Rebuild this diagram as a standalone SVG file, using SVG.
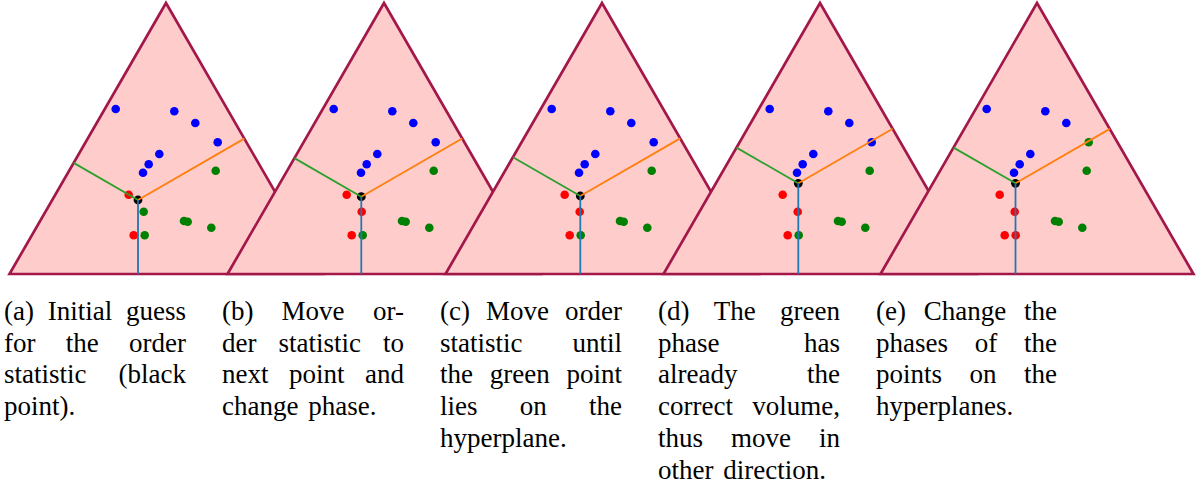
<svg xmlns="http://www.w3.org/2000/svg" width="1196" height="486" viewBox="0 0 1196 486">
<style>
.tri{fill:#ffcccc;stroke:#a3184a;stroke-width:2.7;stroke-linejoin:miter}
.b{fill:#0000ff}.g{fill:#008000}.r{fill:#ff0000}.k{fill:#000}
.hg{stroke:#2ca02c;stroke-width:1.8;fill:none}
.ho{stroke:#ff7f0e;stroke-width:1.8;fill:none}
.hb{stroke:#1f77b4;stroke-width:1.8;fill:none}
text{font-family:"Liberation Serif","Times New Roman",serif;font-size:27px;fill:#000}
.m{text-anchor:middle}.e{text-anchor:end}.w{word-spacing:3px}
</style>
<defs>
<polygon id="tri" class="tri" points="166,3 9.5,274 322.5,274"/>
<g id="common">
<circle class="b" cx="115.7" cy="109" r="4.3"/>
<circle class="b" cx="174.3" cy="111.3" r="4.3"/>
<circle class="b" cx="195.3" cy="123" r="4.3"/>
<circle class="b" cx="159.3" cy="154" r="4.3"/>
<circle class="b" cx="148.7" cy="164.3" r="4.3"/>
<circle class="b" cx="143" cy="172.7" r="4.3"/>
<circle class="g" cx="215.7" cy="170.7" r="4.3"/>
<circle class="g" cx="184" cy="221" r="4.3"/>
<circle class="g" cx="187.7" cy="221.7" r="4.3"/>
<circle class="g" cx="211.3" cy="227.7" r="4.3"/>
<circle class="r" cx="128.7" cy="194.7" r="4.3"/>
<circle class="r" cx="133.7" cy="235.3" r="4.3"/>
</g>
</defs>

<g id="panel-a">
<use href="#tri"/>
<use href="#common"/>
<circle class="b" cx="217.7" cy="142.3" r="4.3"/>
<circle class="g" cx="143.7" cy="211.7" r="4.3"/>
<circle class="g" cx="144.7" cy="235.3" r="4.3"/>
<circle class="k" cx="138" cy="200" r="4.4"/>
<g id="hyperplanes-a">
<line class="hg" x1="138" y1="200" x2="73.7" y2="162.9"/>
<line class="ho" x1="138" y1="200" x2="244.3" y2="138.6"/>
<line class="hb" x1="138" y1="200" x2="138" y2="274"/>
</g>
</g>

<g id="panel-b" transform="translate(218,0)">
<use href="#tri"/>
<use href="#common"/>
<circle class="b" cx="217.7" cy="142.3" r="4.3"/>
<circle class="r" cx="143.7" cy="211.7" r="4.3"/>
<circle class="g" cx="144.7" cy="235.3" r="4.3"/>
<circle class="k" cx="143.3" cy="196.7" r="4.4"/>
<g id="hyperplanes-b">
<line class="hg" x1="143.3" y1="196.7" x2="76.4" y2="158.1"/>
<line class="ho" x1="143.3" y1="196.7" x2="244.2" y2="138.5"/>
<line class="hb" x1="143.3" y1="196.7" x2="143.3" y2="274"/>
</g>
</g>

<g id="panel-c" transform="translate(436,0)">
<use href="#tri"/>
<use href="#common"/>
<circle class="b" cx="217.7" cy="142.3" r="4.3"/>
<circle class="r" cx="143.7" cy="211.7" r="4.3"/>
<circle class="g" cx="144.7" cy="235.3" r="4.3"/>
<circle class="k" cx="144.3" cy="196" r="4.4"/>
<g id="hyperplanes-c">
<line class="hg" x1="144.3" y1="196" x2="77" y2="157.2"/>
<line class="ho" x1="144.3" y1="196" x2="244.2" y2="138.4"/>
<line class="hb" x1="144.3" y1="196" x2="144.3" y2="274"/>
</g>
</g>

<g id="panel-d" transform="translate(654,0)">
<use href="#tri"/>
<use href="#common"/>
<circle class="b" cx="217.7" cy="142.3" r="4.3"/>
<circle class="r" cx="143.7" cy="211.7" r="4.3"/>
<circle class="g" cx="144.7" cy="235.3" r="4.3"/>
<circle class="k" cx="144.3" cy="183.3" r="4.4"/>
<g id="hyperplanes-d">
<line class="hg" x1="144.3" y1="183.3" x2="82.5" y2="147.6"/>
<line class="ho" x1="144.3" y1="183.3" x2="238.7" y2="128.8"/>
<line class="hb" x1="144.3" y1="183.3" x2="144.3" y2="274"/>
</g>
</g>

<g id="panel-e" transform="translate(871,0)">
<use href="#tri"/>
<use href="#common"/>
<circle class="g" cx="217.7" cy="142.3" r="4.3"/>
<circle class="r" cx="143.7" cy="211.7" r="4.3"/>
<circle class="r" cx="144.7" cy="235.3" r="4.3"/>
<circle class="k" cx="144.5" cy="183.3" r="4.4"/>
<g id="hyperplanes-e">
<line class="hg" x1="144.5" y1="183.3" x2="82.6" y2="147.6"/>
<line class="ho" x1="144.5" y1="183.3" x2="238.8" y2="128.9"/>
<line class="hb" x1="144.5" y1="183.3" x2="144.5" y2="274"/>
</g>
</g>

<g id="caption-a">
<text x="4" y="320">(a)</text><text class="m" x="80" y="320">Initial</text><text class="e" x="186" y="320">guess</text>
<text x="4" y="351.7">for</text><text class="m" x="82.3" y="351.7">the</text><text class="e" x="186" y="351.7">order</text>
<text x="4" y="383.4">statistic</text><text class="e" x="186" y="383.4">(black</text>
<text x="4" y="415.1">point).</text>
</g>
<g id="caption-b">
<text x="222" y="320">(b)</text><text class="m" x="313" y="320">Move</text><text class="e" x="404" y="320">or-</text>
<text x="222" y="351.7">der</text><text class="m" x="319.8" y="351.7">statistic</text><text class="e" x="404" y="351.7">to</text>
<text x="222" y="383.4">next</text><text class="m" x="316.8" y="383.4">point</text><text class="e" x="404" y="383.4">and</text>
<text class="w" x="222" y="415.1">change phase.</text>
</g>
<g id="caption-c">
<text x="440" y="320">(c)</text><text class="m" x="517.5" y="320">Move</text><text class="e" x="622" y="320">order</text>
<text x="440" y="351.7">statistic</text><text class="e" x="622" y="351.7">until</text>
<text x="440" y="383.4">the</text><text class="m" x="519.8" y="383.4">green</text><text class="e" x="622" y="383.4">point</text>
<text x="440" y="415.1">lies</text><text class="m" x="533.3" y="415.1">on</text><text class="e" x="622" y="415.1">the</text>
<text x="440" y="446.8">hyperplane.</text>
</g>
<g id="caption-d">
<text x="658" y="320">(d)</text><text class="m" x="734.8" y="320">The</text><text class="e" x="840" y="320">green</text>
<text x="658" y="351.7">phase</text><text class="e" x="840" y="351.7">has</text>
<text x="658" y="383.4">already</text><text class="e" x="840" y="383.4">the</text>
<text x="658" y="415.1">correct</text><text class="e" x="840" y="415.1">volume,</text>
<text x="658" y="446.8">thus</text><text class="m" x="761" y="446.8">move</text><text class="e" x="840" y="446.8">in</text>
<text class="w" x="658" y="478.5">other direction.</text>
</g>
<g id="caption-e">
<text x="876" y="320">(e)</text><text class="m" x="965" y="320">Change</text><text class="e" x="1057" y="320">the</text>
<text x="876" y="351.7">phases</text><text class="m" x="986" y="351.7">of</text><text class="e" x="1057" y="351.7">the</text>
<text x="876" y="383.4">points</text><text class="m" x="983" y="383.4">on</text><text class="e" x="1057" y="383.4">the</text>
<text x="876" y="415.1">hyperplanes.</text>
</g>
</svg>
